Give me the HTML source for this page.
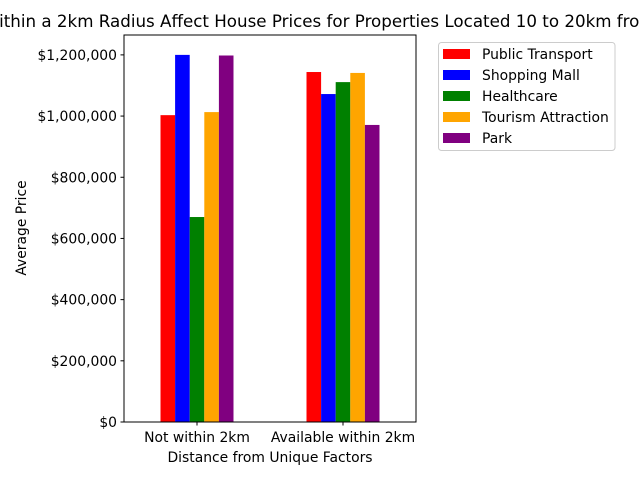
<!DOCTYPE html>
<html><head><meta charset="utf-8"><style>
body{margin:0;background:#fff}
svg{font-family:"DejaVu Sans","Liberation Sans",sans-serif}
</style></head><body>
<svg id="chart" width="640" height="480" xmlns="http://www.w3.org/2000/svg">
<text x="-17" y="27" font-size="16.7">Within a 2km Radius Affect House Prices for Properties Located 10 to 20km from CBD</text>
<g id="plot"></g>
<text x="270" y="462" font-size="13.9" text-anchor="middle">Distance from Unique Factors</text>
<text transform="translate(26,228) rotate(-90)" font-size="13.9" text-anchor="middle">Average Price</text>
<g id="legend"></g>
</svg>
<script>
const categories=["Not within 2km","Available within 2km"];
const seriesNames=["Public Transport","Shopping Mall","Healthcare","Tourism Attraction","Park"];
const publicTransport=[1003000,1144000];
const shoppingMall=[1200000,1072000];
const healthcare=[670000,1111000];
const tourismAttraction=[1013000,1141000];
const park=[1198000,971000];
const yTicks=[0,200000,400000,600000,800000,1000000,1200000];
const colors=["red","blue","green","orange","purple"];
const series=[publicTransport,shoppingMall,healthcare,tourismAttraction,park];
const NS="http://www.w3.org/2000/svg";
const L=124,R=416,T=35,B=422,yMax=1265000;
const xs=v=>L+(v+0.5)/2*(R-L);
const ys=v=>B-v/yMax*(B-T);
const g=document.getElementById('plot');
function mk(t,a,p){const e=document.createElementNS(NS,t);for(const k in a)e.setAttribute(k,a[k]);(p||g).appendChild(e);return e;}
const fmt=v=>'$'+v.toLocaleString('en-US');
series.forEach((s,si)=>{s.forEach((v,ci)=>{
 const x0=xs(ci-0.25+si*0.1),x1=xs(ci-0.25+(si+1)*0.1);
 const r=mk('rect',{x:x0,y:ys(v),width:x1-x0,height:ys(0)-ys(v),fill:colors[si]});
 
 
});});
const frame=mk('rect',{x:L,y:T,width:R-L,height:B-T,fill:'none',stroke:'#000','stroke-width':1});


yTicks.forEach(v=>{const y=ys(v);
 mk('line',{x1:L-3.5,x2:L,y1:y,y2:y,stroke:'#000'});
 const t=mk('text',{x:L-7,y:y+5,'font-size':13.9,'text-anchor':'end'});t.textContent=fmt(v);
 
 
});
categories.forEach((c,i)=>{const x=xs(i);
 mk('line',{x1:x,x2:x,y1:B,y2:B+3.5,stroke:'#000'});
 const t=mk('text',{x:x,y:B+20,'font-size':13.9,'text-anchor':'middle'});t.textContent=c;
 
 
});
const lg=document.getElementById('legend');
mk('rect',{x:438.5,y:42.5,width:176.5,height:108,rx:3,fill:'#fff',stroke:'#ccc'},lg);
seriesNames.forEach((n,i)=>{const y=54+i*21;
 const e=mk('g',{},lg);
 
 
 mk('rect',{x:443,y:y-5,width:27,height:10,fill:colors[i]},e);
 const t=mk('text',{x:482,y:y+5,'font-size':13.9},e);t.textContent=n;
});
</script>
</body></html>
